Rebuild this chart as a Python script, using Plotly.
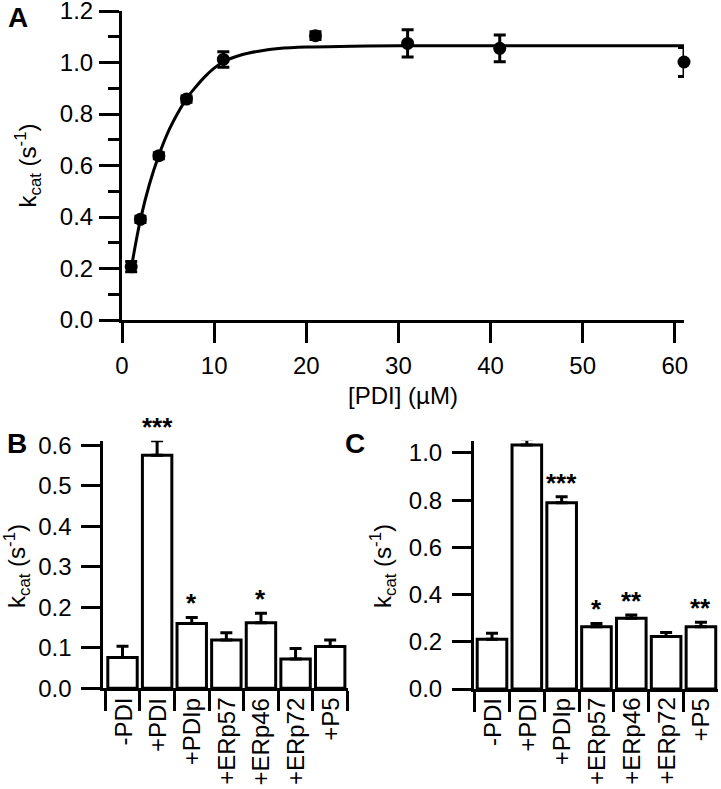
import plotly.graph_objects as go

# ---------- Panel A data ----------
pdi_conc = [1, 2, 4, 7, 11, 21, 31, 41, 61]
kcat_a = [0.207, 0.391, 0.638, 0.858, 1.012, 1.104, 1.074, 1.055, 1.002]
kcat_a_err = [0.02, 0.012, 0.012, 0.012, 0.03, 0.015, 0.053, 0.052, 0.056]

fit_x = [1, 1.5, 2, 3, 4, 5, 6, 7, 8, 9, 10, 11, 13, 15, 17, 20, 25, 30, 40, 50, 61]
fit_y = [0.20, 0.30, 0.39, 0.53, 0.64, 0.73, 0.80, 0.86, 0.905, 0.945, 0.978, 1.003,
         1.03, 1.045, 1.054, 1.06, 1.063, 1.065, 1.065, 1.065, 1.065]

# ---------- Panel B / C data ----------
categories = ["-PDI", "+PDI", "+PDIp", "+ERp57", "+ERp46", "+ERp72", "+P5"]
kcat_b = [0.076, 0.575, 0.160, 0.119, 0.162, 0.072, 0.103]
kcat_b_err = [0.028, 0.036, 0.015, 0.018, 0.023, 0.026, 0.016]
stars_b = ["", "***", "*", "", "*", "", ""]

kcat_c = [0.211, 1.034, 0.789, 0.264, 0.300, 0.222, 0.264]
kcat_c_err = [0.025, 0.024, 0.026, 0.014, 0.014, 0.017, 0.019]
stars_c = ["", "***", "***", "*", "**", "", "**"]

FONT = "Liberation Sans, Arial, Helvetica, sans-serif"
W, H = 721, 789
FS = 24

fig = go.Figure()

fig.add_trace(go.Scatter(x=fit_x, y=fit_y, mode="lines", line=dict(color="black", width=3, shape="spline"),
                         xaxis="x", yaxis="y", showlegend=False, hoverinfo="skip", cliponaxis=False))
fig.add_trace(go.Scatter(x=pdi_conc, y=kcat_a, mode="markers", cliponaxis=False,
                         marker=dict(color="black", size=13),
                         error_y=dict(type="data", array=kcat_a_err, color="black", thickness=3, width=6),
                         xaxis="x", yaxis="y", showlegend=False))

bar_common = dict(marker=dict(color="white", line=dict(color="black", width=3)), showlegend=False,
                  cliponaxis=False)
fig.add_trace(go.Bar(x=categories, y=kcat_b,
                     error_y=dict(type="data", array=kcat_b_err, arrayminus=[0]*len(kcat_b),
                                  symmetric=False, color="black", thickness=3, width=6),
                     xaxis="x2", yaxis="y2", **bar_common))
fig.add_trace(go.Bar(x=categories, y=kcat_c,
                     error_y=dict(type="data", array=kcat_c_err, arrayminus=[0]*len(kcat_c),
                                  symmetric=False, color="black", thickness=3, width=6),
                     xaxis="x3", yaxis="y3", **bar_common))

ax_common = dict(showline=True, linewidth=3, linecolor="black", ticks="outside", tickwidth=3,
                 tickcolor="black", showgrid=False, zeroline=False, automargin=False,
                 ticklabeloverflow="allow",
                 tickfont=dict(family=FONT, size=FS, color="black"))

ytitle = "k<sub>cat</sub> (s<sup>-1</sup>)"

fig.update_layout(
    width=W, height=H, margin=dict(l=0, r=0, t=0, b=0, autoexpand=False),
    paper_bgcolor="white", plot_bgcolor="white",
    font=dict(family=FONT, size=FS, color="black"),
    bargap=0.15,
    xaxis=dict(domain=[122/W, 684/W], range=[0, 61], tickvals=[0, 10, 20, 30, 40, 50, 60],
               ticklen=20, anchor="y", ticklabelstandoff=2,
               title=dict(text="[PDI] (µM)", font=dict(size=FS), standoff=10), **ax_common),
    yaxis=dict(domain=[1-320/H, 1-11/H], range=[0, 1.2], tickvals=[0, 0.2, 0.4, 0.6, 0.8, 1.0, 1.2],
               tickformat=".1f", ticklen=20, anchor="x", ticklabelstandoff=1,
               minor=dict(dtick=0.1, ticklen=11, tickwidth=3, ticks="outside", tickcolor="black", showgrid=False),
               **ax_common),
    xaxis2=dict(domain=[103.3/W, 347.5/W], range=[-0.555, 6.5], type="category",
                tickson="boundaries", ticklen=20, anchor="y2", showticklabels=False, **ax_common),
    yaxis2=dict(domain=[1-688.3/H, 1-440.7/H], range=[0, 0.611], tickvals=[0, 0.1, 0.2, 0.3, 0.4, 0.5, 0.6],
                tickformat=".1f", ticklen=19, anchor="x2", ticklabelstandoff=5, **ax_common),
    xaxis3=dict(domain=[474/W, 718/W], range=[-0.517, 6.49], type="category",
                tickson="boundaries", ticklen=20, anchor="y3", showticklabels=False, **ax_common),
    yaxis3=dict(domain=[1-689/H, 1-440.7/H], range=[0, 1.052], tickvals=[0, 0.2, 0.4, 0.6, 0.8, 1.0],
                tickformat=".1f", ticklen=19, anchor="x3", ticklabelstandoff=5, **ax_common),
)

ann = []
for xr, yr, vals, errs, stars in [("x2", "y2", kcat_b, kcat_b_err, stars_b),
                                  ("x3", "y3", kcat_c, kcat_c_err, stars_c)]:
    for cat, v, e, s in zip(categories, vals, errs, stars):
        if s:
            ann.append(dict(x=cat, y=v + e, xref=xr, yref=yr, text="<b>%s</b>" % s, showarrow=False,
                            yanchor="bottom", yshift=-3, font=dict(size=26, family=FONT)))
    # category tick labels (rotated)
    for cat in categories:
        ann.append(dict(x=cat, y=1-696/H, xref=xr, yref="paper", text=cat, showarrow=False,
                        textangle=-90, xanchor="center", yanchor="top",
                        font=dict(size=FS, family=FONT)))
# y-axis titles
for xp, yp in [(27, 165.5), (17, 566), (383, 566)]:
    ann.append(dict(x=xp/W, y=1-yp/H, xref="paper", yref="paper", text=ytitle, showarrow=False,
                    textangle=-90, xanchor="center", yanchor="middle", font=dict(size=FS, family=FONT)))
for lab, xp, yp in [("A", 17.5, 17.5), ("B", 16.5, 443), ("C", 355, 443)]:
    ann.append(dict(x=xp/W, y=1-yp/H, xref="paper", yref="paper", text="<b>%s</b>" % lab,
                    showarrow=False, xanchor="center", yanchor="middle",
                    font=dict(size=28, family=FONT)))
fig.update_layout(annotations=ann)

fig.write_html("out.html", config={"displayModeBar": False},
               post_script="document.body.style.margin='0';document.body.style.overflow='hidden';")
